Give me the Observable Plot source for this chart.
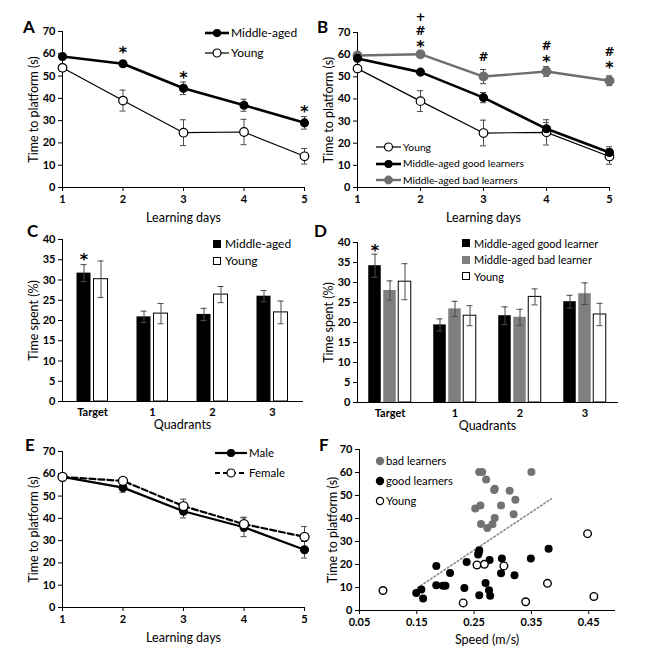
<!DOCTYPE html>
<html><head><meta charset="utf-8">
<script src="https://cdn.jsdelivr.net/npm/d3@7"></script>
<script src="https://cdn.jsdelivr.net/npm/@observablehq/plot@0.6"></script>
<style>
body{margin:0;background:#fff}
#root{position:relative;width:669px;height:665px;background:#fff;font-family:Lato,"Open Sans",sans-serif;color:#000;overflow:hidden}
[aria-label="y-axis tick label"],[aria-label="x-axis tick label"]{font-weight:bold;font-size:11px}
[aria-label="y-axis label"],[aria-label="x-axis label"]{font-size:12.5px;font-weight:normal}
.pl{position:absolute;font-weight:bold;font-size:17px;line-height:1}
.leg{position:absolute;font-size:12px;line-height:1}
.leg .row{display:flex;align-items:center;white-space:nowrap}
</style></head><body><div id="root"></div><script>
// ---------------- data ----------------
const days = [1, 2, 3, 4, 5];
// Panel A / B young
const youngMean = [53.7, 39.0, 24.6, 24.9, 14.0];
const youngErr  = [1.5, 4.7, 5.8, 5.7, 3.5];
// Panel A middle-aged
const middleMean = [58.8, 55.5, 44.5, 36.9, 29.0];
const middleErr  = [1.3, 1.0, 2.8, 2.7, 2.8];
const aSigDays = [2, 3, 5];
const aSigY = [62.2, 51.0, 35.8];
const aSigText = ["*", "*", "*"];
// Panel B
const goodMean = [58.3, 52.1, 40.6, 26.5, 15.8];
const goodErr  = [1.0, 1.0, 2.3, 2.8, 2.6];
const badMean  = [59.6, 60.2, 50.1, 52.4, 48.2];
const badErr   = [1.0, 0.6, 3.2, 2.2, 2.2];
const bSigDays = [2, 2, 2, 3, 4, 4, 5, 5];
const bSigY    = [76.8, 70.6, 65.3, 58.7, 64.0, 58.7, 61.3, 56.0];
const bSigText = ["+", "#", "*", "#", "#", "*", "#", "*"];
// Panel C / D
const quadrants = ["Target", "1", "2", "3"];
const cMiddleMean = [31.7, 20.9, 21.5, 26.0];
const cMiddleErr  = [2.1, 1.4, 1.5, 1.4];
const quadYoungMean = [30.2, 21.7, 26.4, 22.0];
const quadYoungErr  = [4.5, 2.5, 2.0, 2.8];
const cSigQuad = ["Target"]; const cSigY = [36.0];
const dGoodMean = [34.2, 19.4, 21.7, 25.2];
const dGoodErr  = [2.9, 1.5, 2.2, 1.6];
const dBadMean  = [28.0, 23.4, 21.3, 27.2];
const dBadErr   = [2.4, 1.9, 2.0, 2.7];
const dSigQuad = ["Target"]; const dSigY = [39.0];
// Panel E
const maleMean   = [58.6, 53.8, 43.2, 36.0, 25.9];
const maleErr    = [1.0, 2.1, 3.0, 4.2, 3.7];
const femaleMean = [58.6, 56.8, 45.5, 37.4, 31.7];
const femaleErr  = [1.0, 1.1, 3.1, 3.1, 4.6];
// Panel F
const badSpeed = [0.259, 0.264, 0.350, 0.271, 0.286, 0.285, 0.312, 0.322, 0.252, 0.261, 0.297, 0.319, 0.286, 0.262, 0.282, 0.273];
const badTime  = [60.2, 60.2, 60.2, 57.0, 52.9, 52.4, 52.1, 48.2, 44.3, 45.7, 45.7, 41.9, 40.2, 37.6, 37.5, 35.9];
const goodSpeed = [0.259, 0.258, 0.257, 0.380, 0.184, 0.237, 0.277, 0.2985, 0.349, 0.208, 0.297, 0.3205, 0.184, 0.1955, 0.200, 0.233, 0.270, 0.276, 0.278, 0.259, 0.149, 0.158, 0.161];
const goodTime  = [26.2, 25.0, 24.3, 26.8, 19.4, 21.1, 22.0, 22.6, 22.6, 16.3, 16.2, 15.3, 11.0, 10.8, 10.8, 9.8, 12.0, 8.8, 6.4, 6.6, 7.6, 9.1, 5.2];
const youngSpeed = [0.091, 0.231, 0.255, 0.268, 0.302, 0.340, 0.378, 0.448, 0.459];
const youngTime  = [8.7, 3.3, 19.8, 20.1, 19.4, 3.8, 11.8, 33.4, 6.1];
const trendSpeed = [0.151, 0.385];
const trendTime  = [9.8, 48.6];
const speedTicks = [0.05, 0.15, 0.25, 0.35, 0.45];

// ---------------- helpers ----------------
const root = document.getElementById("root");
const FONT = "Lato, 'Open Sans', sans-serif";
const SIGFONT = "'DejaVu Sans', sans-serif";
const ERR = "#4a4a4a";
const GRAY = "#6e6e6e";
const BARGRAY = "#7f7f7f";
function put(node, left, top) {
  const w = document.createElement("div");
  w.style.cssText = `position:absolute;left:${left}px;top:${top}px`;
  w.append(node); root.append(w); return w;
}
const style = {fontFamily: FONT, fontSize: "11px", background: "transparent", color: "#000", overflow: "visible"};
const rows = (xs, means, errs) => xs.map((x, i) => ({x, mean: means[i], err: errs[i]}));
const pts = (xs, ys) => xs.map((x, i) => ({x, y: ys[i]}));
const sig = (xs, ys, ts) => xs.map((x, i) => ({x, y: ys[i], t: ts[i]}));

function errLine(data) {
  return [
    Plot.ruleX(data, {x: "x", y1: d => d.mean - d.err, y2: d => d.mean + d.err, stroke: ERR, strokeWidth: 1}),
    Plot.ruleY(data, {x1: "x", x2: "x", y: d => d.mean + d.err, stroke: ERR, strokeWidth: 1, insetLeft: -3, insetRight: -3}),
    Plot.ruleY(data, {x1: "x", x2: "x", y: d => d.mean - d.err, stroke: ERR, strokeWidth: 1, insetLeft: -3, insetRight: -3})
  ];
}
function lineAxes(yLabel) {
  return [
    Plot.axisY({ticks: d3.range(0, 71, 10), tickSize: 4, tickPadding: 3, label: yLabel, labelAnchor: "center", labelOffset: 33, labelArrow: "none"}),
    Plot.axisX({ticks: days, tickSize: 4, tickPadding: 4, tickFormat: d => String(d), label: "Learning days", labelAnchor: "center", labelOffset: 34, labelArrow: "none"}),
    Plot.frame({anchor: "left"}), Plot.frame({anchor: "bottom"})
  ];
}
function sigMarks(data, dx = 0) {
  return [
    Plot.text(data.filter(d => d.t === "*"), {x: "x", y: "y", text: "t", dx, dy: 4, fontSize: 16, fontWeight: "bold", fontFamily: SIGFONT, fill: "#000"}),
    Plot.text(data.filter(d => d.t !== "*"), {x: "x", y: "y", text: "t", dx, dy: 0, fontSize: 12, fontWeight: "bold", fontFamily: SIGFONT, fill: "#000"})
  ];
}
function linePlot(o) {
  return Plot.plot({
    width: o.width, height: o.height,
    marginLeft: o.ml, marginRight: o.mr, marginTop: o.mt, marginBottom: o.mb,
    style,
    x: {domain: [1, 5]}, y: {domain: [0, 70]},
    marks: [...lineAxes("Time to platform (s)"), ...o.marks]
  });
}
// grouped bar helpers
function barMarks(data, idx, n, BW, w, g, fill, stroke) {
  const L = (BW - (n * w + (n - 1) * g)) / 2 + idx * (w + g);
  const c = L + w / 2;
  return [
    Plot.barY(data, {x: "x", y: "mean", fill, stroke: stroke || "none", strokeWidth: 1, insetLeft: L, insetRight: BW - L - w}),
    Plot.ruleX(data, {x: "x", y1: d => d.mean - d.err, y2: d => d.mean + d.err, stroke: ERR, strokeWidth: 1, dx: c - BW / 2}),
    Plot.tickY(data, {x: "x", y: d => d.mean + d.err, stroke: ERR, strokeWidth: 1, insetLeft: c - 3, insetRight: BW - c - 3}),
    Plot.tickY(data, {x: "x", y: d => d.mean - d.err, stroke: ERR, strokeWidth: 1, insetLeft: c - 3, insetRight: BW - c - 3})
  ];
}
function barPlot(o) {
  return Plot.plot({
    width: o.width, height: o.height,
    marginLeft: o.ml, marginRight: o.mr, marginTop: o.mt, marginBottom: o.mb,
    style,
    x: {type: "band", domain: quadrants, padding: 0},
    y: {domain: [0, 40]},
    marks: [
      Plot.axisY({ticks: d3.range(0, 41, 5), tickSize: 4, tickPadding: 3, label: "Time spent (%)", labelAnchor: "center", labelOffset: 33, labelArrow: "none"}),
      Plot.axisX({tickSize: 0, tickPadding: 7, label: "Quadrants", labelAnchor: "center", labelOffset: 27, labelArrow: "none"}),
      Plot.frame({anchor: "left"}), Plot.frame({anchor: "bottom"}),
      ...o.marks
    ]
  });
}
function legend(left, topCenter, rowH, items, fs) {
  const div = document.createElement("div");
  div.className = "leg";
  div.style.left = left + "px";
  div.style.top = (topCenter - rowH / 2) + "px";
  if (fs) div.style.fontSize = fs + "px";
  for (const it of items) {
    const r = document.createElement("div");
    r.className = "row"; r.style.height = rowH + "px";
    r.innerHTML = it.sym + `<span style="margin-left:${it.gap ?? 2}px">${it.label}</span>`;
    div.append(r);
  }
  root.append(div);
}
function symLine(w, stroke, sw, fill, dotStroke, r, dash) {
  return `<svg width="${w}" height="12" style="flex:none;overflow:visible"><line x1="0" x2="${w}" y1="6" y2="6" stroke="${stroke}" stroke-width="${sw}" ${dash ? `stroke-dasharray="${dash}"` : ""}/><circle cx="${w / 2}" cy="6" r="${r}" fill="${fill}" stroke="${dotStroke}" stroke-width="1.2"/></svg>`;
}
function symSquare(fill, stroke) {
  return `<svg width="8" height="8" style="flex:none;overflow:visible"><rect x="0.5" y="0.5" width="7" height="7" fill="${fill}" stroke="${stroke}" stroke-width="1"/></svg>`;
}
function symDot(fill, stroke) {
  return `<svg width="8" height="8" style="flex:none;overflow:visible"><circle cx="4" cy="4" r="3.6" fill="${fill}" stroke="${stroke}" stroke-width="1.2"/></svg>`;
}
function letter(t, cx, cy) {
  const d = document.createElement("div");
  d.className = "pl"; d.textContent = t;
  d.style.left = (cx - 6) + "px"; d.style.top = (cy - 9) + "px";
  root.append(d);
}

// ---------------- Panel A ----------------
const mid = rows(days, middleMean, middleErr);
const yng = rows(days, youngMean, youngErr);
put(linePlot({width: 335, height: 228, ml: 62, mr: 31, mt: 31, mb: 41, marks: [
  ...errLine(mid), ...errLine(yng),
  Plot.line(yng, {x: "x", y: "mean", stroke: "#000", strokeWidth: 1.2}),
  Plot.line(mid, {x: "x", y: "mean", stroke: "#000", strokeWidth: 2.6}),
  Plot.dot(yng, {x: "x", y: "mean", r: 4.3, fill: "#fff", stroke: "#000", strokeWidth: 1.2}),
  Plot.dot(mid, {x: "x", y: "mean", r: 3.8, fill: "#000", stroke: "#000"}),
  ...sigMarks(sig(aSigDays, aSigY, aSigText))
]}), 0, 0);
legend(205, 33, 20, [
  {label: "Middle-aged", sym: symLine(24, "#000", 2.6, "#000", "#000", 3.5)},
  {label: "Young", sym: symLine(24, "#000", 1.2, "#fff", "#000", 4)}
]);
letter("A", 29, 27);

// ---------------- Panel B ----------------
const good = rows(days, goodMean, goodErr);
const bad = rows(days, badMean, badErr);
put(linePlot({width: 369, height: 228, ml: 57, mr: 60, mt: 32, mb: 41, marks: [
  ...errLine(bad), ...errLine(good), ...errLine(yng),
  Plot.line(yng, {x: "x", y: "mean", stroke: "#000", strokeWidth: 1.2}),
  Plot.line(bad, {x: "x", y: "mean", stroke: GRAY, strokeWidth: 2.4}),
  Plot.line(good, {x: "x", y: "mean", stroke: "#000", strokeWidth: 2.6}),
  Plot.dot(yng, {x: "x", y: "mean", r: 4.3, fill: "#fff", stroke: "#000", strokeWidth: 1.2}),
  Plot.dot(bad, {x: "x", y: "mean", r: 4.2, fill: GRAY, stroke: GRAY}),
  Plot.dot(good, {x: "x", y: "mean", r: 3.8, fill: "#000", stroke: "#000"}),
  ...sigMarks(sig(bSigDays, bSigY, bSigText))
]}), 300, 0);
legend(376, 147, 16.5, [
  {label: "Young", sym: symLine(25, "#000", 1.2, "#fff", "#000", 4)},
  {label: "Middle-aged good learners", sym: symLine(25, "#000", 2.6, "#000", "#000", 3.5)},
  {label: "Middle-aged bad learners", sym: symLine(25, GRAY, 2.4, GRAY, GRAY, 3.8)}
], 10.3);
letter("B", 323, 27);

// ---------------- Panel C ----------------
const cMid = rows(quadrants, cMiddleMean, cMiddleErr);
const cYng = rows(quadrants, quadYoungMean, quadYoungErr);
put(barPlot({width: 335, height: 225, ml: 62, mr: 33, mt: 24, mb: 39, marks: [
  ...barMarks(cMid, 0, 2, 60, 14, 3, "#000"),
  ...barMarks(cYng, 1, 2, 60, 14, 3, "#fff", "#000"),
  ...sigMarks(sig(cSigQuad, cSigY, ["*"]), -8.5)
]}), 0, 215);
legend(213, 244, 17, [
  {label: "Middle-aged", sym: symSquare("#000", "#000"), gap: 4},
  {label: "Young", sym: symSquare("#fff", "#000"), gap: 4}
]);
letter("C", 33, 231);

// ---------------- Panel D ----------------
const dGood = rows(quadrants, dGoodMean, dGoodErr);
const dBad = rows(quadrants, dBadMean, dBadErr);
put(barPlot({width: 369, height: 225, ml: 57, mr: 52, mt: 27, mb: 38, marks: [
  ...barMarks(dGood, 0, 3, 65, 12.5, 2.5, "#000"),
  ...barMarks(dBad, 1, 3, 65, 12.5, 2.5, BARGRAY),
  ...barMarks(cYng, 2, 3, 65, 12.5, 2.5, "#fff", "#000"),
  ...sigMarks(sig(dSigQuad, dSigY, ["*"]), -15)
]}), 300, 215);
legend(462, 243, 16.5, [
  {label: "Middle-aged good learner", sym: symSquare("#000", "#000"), gap: 4},
  {label: "Middle-aged bad learner", sym: symSquare(BARGRAY, BARGRAY), gap: 4},
  {label: "Young", sym: symSquare("#fff", "#000"), gap: 4}
], 11);
letter("D", 320, 231);

// ---------------- Panel E ----------------
const male = rows(days, maleMean, maleErr);
const female = rows(days, femaleMean, femaleErr);
put(linePlot({width: 335, height: 225, ml: 62, mr: 31, mt: 11, mb: 58, marks: [
  ...errLine(male), ...errLine(female),
  Plot.line(male, {x: "x", y: "mean", stroke: "#000", strokeWidth: 2.2}),
  Plot.line(female, {x: "x", y: "mean", stroke: "#000", strokeWidth: 2.2, strokeDasharray: "6,3"}),
  Plot.dot(male, {x: "x", y: "mean", r: 3.8, fill: "#000", stroke: "#000"}),
  Plot.dot(female, {x: "x", y: "mean", r: 4.5, fill: "#fff", stroke: "#000", strokeWidth: 1.3})
]}), 0, 440);
legend(215, 453, 19.5, [
  {label: "Male", sym: symLine(32, "#000", 2.2, "#000", "#000", 3.5)},
  {label: "Female", sym: symLine(32, "#000", 2.2, "#fff", "#000", 4, "5,3")}
], 11.5);
letter("E", 31, 445);

// ---------------- Panel F ----------------
put(Plot.plot({
  width: 369, height: 225, marginLeft: 59, marginRight: 55, marginTop: 9, marginBottom: 55,
  style,
  x: {domain: [0.05, 0.495]}, y: {domain: [0, 70]},
  marks: [
    Plot.axisY({ticks: d3.range(0, 71, 10), tickSize: 4, tickPadding: 3, label: "Time to platform (s)", labelAnchor: "center", labelOffset: 31, labelArrow: "none"}),
    Plot.axisX({ticks: speedTicks, tickSize: 4, tickPadding: 4, tickFormat: d3.format(".2f"), label: "Speed (m/s)", labelAnchor: "center", labelOffset: 33, labelArrow: "none"}),
    Plot.frame({anchor: "left"}), Plot.frame({anchor: "bottom"}),
    Plot.line(pts(trendSpeed, trendTime), {x: "x", y: "y", stroke: "#8a8a8a", strokeWidth: 1.6, strokeDasharray: "1.6,2.4"}),
    Plot.dot(pts(badSpeed, badTime), {x: "x", y: "y", r: 4, fill: "#727272"}),
    Plot.dot(pts(goodSpeed, goodTime), {x: "x", y: "y", r: 4, fill: "#000"}),
    Plot.dot(pts(youngSpeed, youngTime), {x: "x", y: "y", r: 3.8, fill: "#fff", stroke: "#000", strokeWidth: 1.4})
  ]
}), 300, 440);
legend(376, 461, 20, [
  {label: "bad learners", sym: symDot("#727272", "#727272"), gap: 2},
  {label: "good learners", sym: symDot("#000", "#000"), gap: 2},
  {label: "Young", sym: symDot("#fff", "#000"), gap: 2}
], 11.2);
letter("F", 325, 445);
</script></body></html>
